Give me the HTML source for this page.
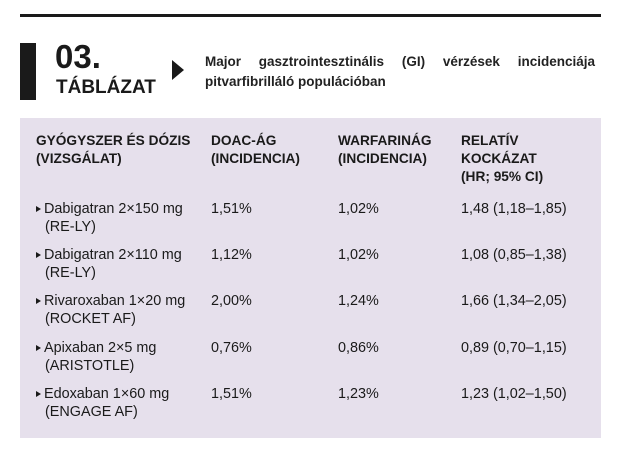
<!DOCTYPE html>
<html><head><meta charset="utf-8"><style>
body{margin:0;width:621px;height:461px;background:#fff;position:relative;font-family:"Liberation Sans",sans-serif;color:#1a1a1a;overflow:hidden}
.a{position:absolute;white-space:nowrap}
.h{font-weight:bold;font-size:13.7px;line-height:18px}
.c{font-size:14.4px;line-height:18px}
.c span.i{display:inline-block;width:9px}
.tri{display:inline-block;width:0;height:0;border-left:5px solid #1a1a1a;border-top:3.5px solid transparent;border-bottom:3.5px solid transparent;margin-right:3px;vertical-align:1px}
</style></head><body>
<div class="a" style="left:20px;top:14px;width:581px;height:3px;background:#1a1a1a"></div>
<div class="a" style="left:20px;top:43px;width:16px;height:57px;background:#1a1a1a"></div>
<div class="a" style="left:55px;top:38px;font-size:33px;font-weight:bold;line-height:38px">03.</div>
<div class="a" style="left:56px;top:78px;font-size:19px;font-weight:bold;line-height:20px">TÁBLÁZAT</div>
<div class="a" style="left:172px;top:60px;width:0;height:0;border-left:12px solid #1a1a1a;border-top:10px solid transparent;border-bottom:10px solid transparent"></div>
<div class="a" style="left:205px;top:52px;width:390px;font-size:13.5px;font-weight:bold;line-height:20px;white-space:normal;text-align:justify;text-align-last:left;color:#222">Major gasztrointesztinális (GI) vérzések incidenciája pitvarfibrilláló populációban</div>
<div class="a" style="left:20px;top:118px;width:581px;height:320px;background:#e6e0ec"></div>
<div class="a h" style="left:36px;top:132px">GYÓGYSZER ÉS DÓZIS<br>(VIZSGÁLAT)</div>
<div class="a h" style="left:211px;top:132px">DOAC-ÁG<br>(INCIDENCIA)</div>
<div class="a h" style="left:338px;top:132px">WARFARINÁG<br>(INCIDENCIA)</div>
<div class="a h" style="left:461px;top:132px">RELATÍV<br>KOCKÁZAT<br>(HR; 95% CI)</div>

<div class="a c" style="left:36px;top:200px"><span class="tri"></span>Dabigatran 2×150 mg<br><span class="i"></span>(RE-LY)</div>
<div class="a c" style="left:211px;top:200px">1,51%</div><div class="a c" style="left:338px;top:200px">1,02%</div><div class="a c" style="left:461px;top:200px">1,48 (1,18–1,85)</div>

<div class="a c" style="left:36px;top:246px"><span class="tri"></span>Dabigatran 2×110 mg<br><span class="i"></span>(RE-LY)</div>
<div class="a c" style="left:211px;top:246px">1,12%</div><div class="a c" style="left:338px;top:246px">1,02%</div><div class="a c" style="left:461px;top:246px">1,08 (0,85–1,38)</div>

<div class="a c" style="left:36px;top:292px"><span class="tri"></span>Rivaroxaban 1×20 mg<br><span class="i"></span>(ROCKET AF)</div>
<div class="a c" style="left:211px;top:292px">2,00%</div><div class="a c" style="left:338px;top:292px">1,24%</div><div class="a c" style="left:461px;top:292px">1,66 (1,34–2,05)</div>

<div class="a c" style="left:36px;top:339px"><span class="tri"></span>Apixaban 2×5 mg<br><span class="i"></span>(ARISTOTLE)</div>
<div class="a c" style="left:211px;top:339px">0,76%</div><div class="a c" style="left:338px;top:339px">0,86%</div><div class="a c" style="left:461px;top:339px">0,89 (0,70–1,15)</div>

<div class="a c" style="left:36px;top:385px"><span class="tri"></span>Edoxaban 1×60 mg<br><span class="i"></span>(ENGAGE AF)</div>
<div class="a c" style="left:211px;top:385px">1,51%</div><div class="a c" style="left:338px;top:385px">1,23%</div><div class="a c" style="left:461px;top:385px">1,23 (1,02–1,50)</div>
</body></html>
